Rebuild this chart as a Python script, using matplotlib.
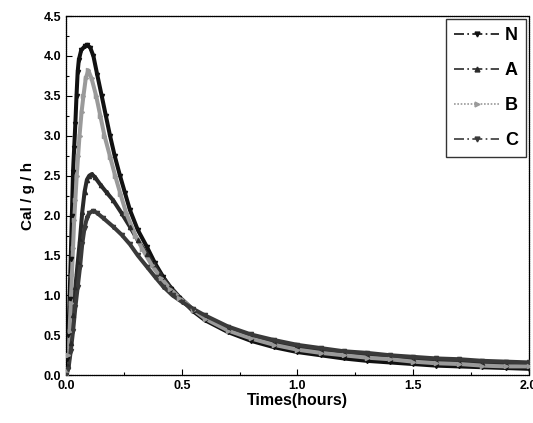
import matplotlib
matplotlib.use("Agg")
import matplotlib.pyplot as plt
from matplotlib.ticker import MultipleLocator

plt.rcParams["font.family"] = ["Liberation Sans", "DejaVu Sans"]
plt.rcParams["font.weight"] = "bold"

# values (time in hours, heat flow in cal/g/h)
t_N = [0, 0.005, 0.01, 0.015, 0.02, 0.025, 0.03, 0.035, 0.04, 0.045, 0.05, 0.055,
       0.065, 0.08, 0.092, 0.105, 0.118, 0.135, 0.154, 0.172, 0.19, 0.21, 0.233,
       0.255, 0.276, 0.31, 0.349, 0.385, 0.42, 0.455, 0.49, 0.55, 0.6, 0.7, 0.8,
       0.9, 1.0, 1.1, 1.2, 1.3, 1.4, 1.5, 1.6, 1.7, 1.8, 1.9, 2.0]
v_N = [0, 0.2, 0.5, 0.95, 1.45, 2.0, 2.55, 2.85, 3.15, 3.5, 3.8, 3.95,
       4.07, 4.12, 4.14, 4.1, 4.0, 3.76, 3.5, 3.25, 3.0, 2.75, 2.5,
       2.28, 2.07, 1.82, 1.61, 1.4, 1.23, 1.08, 0.97, 0.8, 0.69, 0.54, 0.43,
       0.35, 0.29, 0.25, 0.21, 0.18, 0.16, 0.14, 0.12, 0.11, 0.1, 0.09, 0.08]

t_A = [0, 0.01, 0.02, 0.03, 0.04, 0.05, 0.06, 0.07, 0.08, 0.09, 0.1, 0.111,
       0.125, 0.15, 0.175, 0.204, 0.24, 0.276, 0.31, 0.349, 0.378, 0.406, 0.45,
       0.49, 0.55, 0.6, 0.7, 0.8, 0.9, 1.0, 1.1, 1.2, 1.3, 1.4, 1.5, 1.6, 1.7,
       1.8, 1.9, 2.0]
v_A = [0, 0.12, 0.4, 0.75, 1.1, 1.4, 1.7, 2.05, 2.3, 2.45, 2.5, 2.52,
       2.48, 2.38, 2.29, 2.19, 2.03, 1.86, 1.69, 1.52, 1.39, 1.27, 1.11,
       0.98, 0.82, 0.72, 0.58, 0.48, 0.41, 0.36, 0.31, 0.28, 0.25, 0.22, 0.2,
       0.18, 0.16, 0.15, 0.14, 0.13]

t_B = [0, 0.005, 0.01, 0.015, 0.02, 0.025, 0.03, 0.035, 0.04, 0.046, 0.052,
       0.058, 0.067, 0.075, 0.085, 0.096, 0.11, 0.13, 0.148, 0.166, 0.19, 0.212,
       0.235, 0.26, 0.3, 0.33, 0.37, 0.41, 0.45, 0.49, 0.55, 0.6, 0.7, 0.8, 0.9,
       1.0, 1.1, 1.2, 1.3, 1.4, 1.5, 1.6, 1.7, 1.8, 1.9, 2.0]
v_B = [0, 0.05, 0.25, 0.55, 0.9, 1.25, 1.6, 1.95, 2.2, 2.5, 2.75,
       3.0, 3.3, 3.5, 3.72, 3.82, 3.72, 3.5, 3.25, 3.0, 2.74, 2.5,
       2.27, 2.03, 1.75, 1.58, 1.38, 1.22, 1.08, 0.97, 0.82, 0.71, 0.56, 0.46, 0.38,
       0.32, 0.28, 0.25, 0.22, 0.2, 0.17, 0.15, 0.14, 0.12, 0.11, 0.11]

t_C = [0, 0.01, 0.02, 0.03, 0.04, 0.05, 0.06, 0.07, 0.08, 0.09, 0.1, 0.118,
       0.135, 0.16, 0.204, 0.24, 0.276, 0.31, 0.349, 0.385, 0.42, 0.46, 0.5,
       0.55, 0.6, 0.7, 0.8, 0.9, 1.0, 1.1, 1.2, 1.3, 1.4, 1.5, 1.6, 1.7, 1.8,
       1.9, 2.0]
v_C = [0, 0.08, 0.3, 0.55, 0.85, 1.1, 1.35, 1.65, 1.85, 1.97, 2.03, 2.06,
       2.03, 1.97, 1.86, 1.76, 1.64, 1.5, 1.36, 1.23, 1.11, 1.0, 0.92,
       0.83, 0.75, 0.61, 0.51, 0.44, 0.38, 0.34, 0.3, 0.28, 0.25, 0.23, 0.21,
       0.2, 0.18, 0.17, 0.16]

SERIES = [
    ("N", t_N, v_N, "#111111", "v", (6, 2, 1, 2)),
    ("A", t_A, v_A, "#2a2a2a", "^", (6, 2, 1, 2)),
    ("B", t_B, v_B, "#9a9a9a", ">", (1, 1)),
    ("C", t_C, v_C, "#3a3a3a", "v", (6, 2, 1, 2)),
]

fig = plt.figure(figsize=(5.33, 4.23), dpi=100)
ax = fig.add_axes([0.124, 0.113, 0.868, 0.849])

for name, t, v, col, mk, dash in SERIES:
    # thick band underneath to mimic the dense raw data points
    ax.plot(t, v, color=col, lw=2.9, solid_capstyle="round", zorder=2)
    ax.plot([], [], color=col, lw=1.2, dashes=dash, marker=mk, ms=3.5,
            markevery=[0], label=name)
    ax.plot(t, v, ls="none", marker=mk, ms=3, color=col, zorder=3)

ax.set_xlim(0, 2.0)
ax.set_ylim(0, 4.5)
ax.xaxis.set_major_locator(MultipleLocator(0.5))
ax.xaxis.set_minor_locator(MultipleLocator(0.25))
ax.yaxis.set_major_locator(MultipleLocator(0.5))
ax.yaxis.set_minor_locator(MultipleLocator(0.25))
ax.xaxis.set_major_formatter(plt.FormatStrFormatter("%.1f"))
ax.yaxis.set_major_formatter(plt.FormatStrFormatter("%.1f"))
ax.tick_params(which="both", direction="in", top=False, right=False,
               labelsize=9, width=0.8)
ax.tick_params(which="major", length=4)
ax.tick_params(which="minor", length=2)
for s in ax.spines.values():
    s.set_linewidth(0.9)
    s.set_linestyle((0, (1, 0.5)))

ax.set_xlabel("Times(hours)", fontsize=11.5, fontweight="bold", labelpad=1)
ax.set_ylabel("Cal / g / h", fontsize=11, fontweight="bold", labelpad=6)

leg = ax.legend(loc="upper right", fontsize=13, frameon=True, fancybox=False,
                edgecolor="black", handlelength=2.5, handletextpad=0.3,
                labelspacing=1.0, borderpad=0.45, borderaxespad=0.15,
                markerfirst=True)
leg.get_frame().set_linewidth(1.0)
for txt in leg.get_texts():
    txt.set_fontweight("bold")

fig.savefig("out.png", dpi=100)
